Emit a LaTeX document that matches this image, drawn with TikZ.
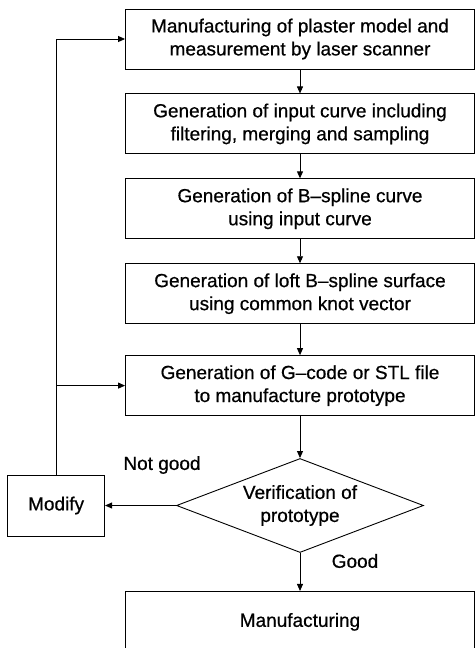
\documentclass[tikz,border=0pt]{standalone}
\usepackage{fontspec}
\setmainfont{Liberation Sans}[FakeBold=0.6]
\usetikzlibrary{arrows.meta,positioning,shapes.geometric}

\begin{document}
\begin{tikzpicture}[
  node distance=24pt and 71pt,
  every node/.style={font=\fontsize{19pt}{23pt}\selectfont,align=center},
  box/.style={draw,line width=0.9pt,minimum width=349pt,minimum height=60pt,inner sep=2pt},
  decision/.style={draw,line width=0.9pt,diamond,aspect=2.6,minimum width=247pt,minimum height=94pt,inner sep=0pt},
  arr/.style={-{Triangle[length=7pt,width=6pt]},line width=0.9pt}
]
\useasboundingbox (0,0) rectangle (475pt,-648pt);
\node[box] (plaster) at (300pt,-39pt) {Manufacturing of plaster model and\\measurement by laser scanner};
\node[box,below=of plaster] (input) {Generation of input curve including\\filtering, merging and sampling};
\node[box,below=of input] (bspline) {Generation of B--spline curve\\using input curve};
\node[box,below=of bspline] (loft) {Generation of loft B--spline surface\\using common knot vector};
\node[box,below=31pt of loft] (gcode) {Generation of G--code or STL file\\to manufacture prototype};
\node[decision,below=42pt of gcode] (verify) {Verification of\\prototype};
\node[box,below=38pt of verify,minimum height=61pt] (manuf) {Manufacturing};
\node[draw,line width=0.9pt,minimum width=97pt,minimum height=61pt,left=of verify] (modify) {Modify};
\node (notgood) at (162pt,-465pt) {Not good};
\node (good) at (355pt,-561pt) {Good};
\draw[arr] (plaster)--(input);
\draw[arr] (input)--(bspline);
\draw[arr] (bspline)--(loft);
\draw[arr] (loft)--(gcode);
\draw[arr] (gcode)--(verify);
\draw[arr] (verify)--(manuf);
\draw[arr] (verify)--(modify);
\draw[arr] (modify.north)|-(plaster.west);
\draw[arr] (modify.north|-gcode.west)--(gcode.west);
\end{tikzpicture}
\end{document}
